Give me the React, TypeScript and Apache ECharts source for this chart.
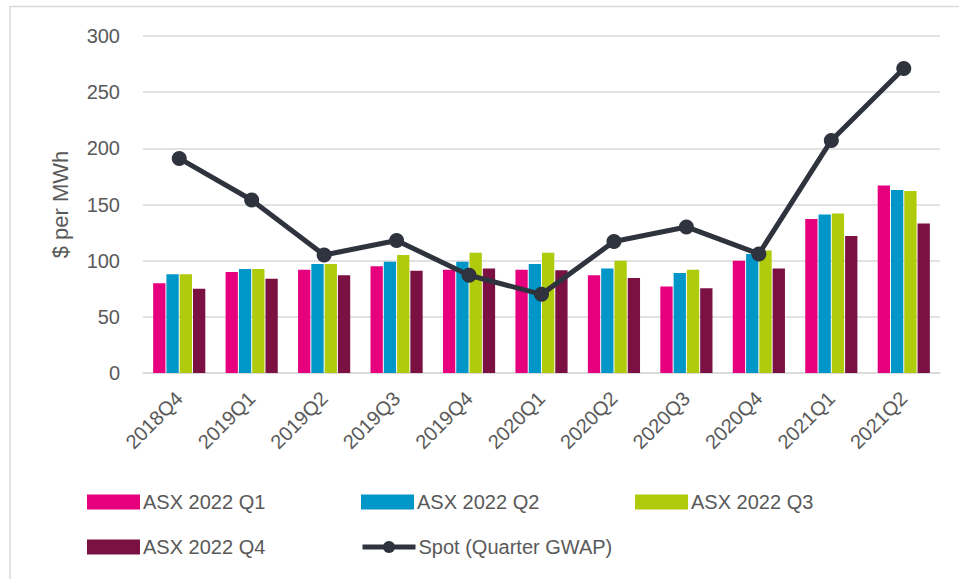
import React, { useEffect, useRef } from "react";
import * as echarts from "echarts";

const categories = ["2018Q4", "2019Q1", "2019Q2", "2019Q3", "2019Q4", "2020Q1", "2020Q2", "2020Q3", "2020Q4", "2021Q1", "2021Q2"];
const asxQ1 = [80, 90, 92, 95, 92, 92, 87, 77, 100, 137, 167];
const asxQ2 = [88, 92.5, 97, 99, 99, 97, 93, 89, 106, 141, 163];
const asxQ3 = [88, 92.5, 97, 105, 107, 107, 100, 92, 109, 142, 162];
const asxQ4 = [75, 84, 87, 91, 93, 91.5, 84.5, 75.5, 93, 122, 133];
const spot = [191, 154, 105, 118, 87, 70, 117, 130, 106, 207, 271];
const yTicks = { min: 0, max: 300, interval: 50 };

const COLORS = ["#E6007E", "#0096C8", "#B0CA0C", "#7A1142", "#2E333D"];
const NAMES = ["ASX 2022 Q1", "ASX 2022 Q2", "ASX 2022 Q3", "ASX 2022 Q4", "Spot (Quarter GWAP)"];
const FONT = "'Liberation Sans', 'DejaVu Sans', sans-serif";
const TXT = "#595959";

export default function App() {
  const ref = useRef<HTMLDivElement>(null);
  useEffect(() => {
    if (!ref.current) return;
    const chart = echarts.init(ref.current, null, { renderer: "svg" });
    const barSeries = [asxQ1, asxQ2, asxQ3, asxQ4].map((d, i) => ({
      name: NAMES[i],
      type: "bar",
      data: d,
      barWidth: 12.3,
      barGap: "8%",
      itemStyle: { color: COLORS[i] },
    }));
    const legendPos = [
      [87, 492],
      [361, 492],
      [635, 492],
      [87, 537],
      [360, 537],
    ];
    const legends = NAMES.map((n, i) => ({
      data: [n],
      left: legendPos[i][0],
      top: legendPos[i][1],
      padding: 0,
      itemWidth: 53,
      itemHeight: 15,
      itemGap: 0,
      selectedMode: false,
      textStyle: { color: TXT, fontSize: 20, fontFamily: FONT, padding: [0, 0, 0, -2] },
      ...(i === 4
        ? { lineStyle: { width: 5, color: COLORS[4] }, itemStyle: { color: COLORS[4] } }
        : { icon: "rect" }),
    }));
    chart.setOption({
      animation: false,
      textStyle: { fontFamily: FONT },
      graphic: [
        {
          type: "rect",
          shape: { x: 10, y: 6.5, width: 1000, height: 1000 },
          style: { fill: "none", stroke: "#d9d9d9", lineWidth: 1.5 },
          silent: true,
        },
      ],
      legend: legends,
      grid: { left: 143, top: 36, width: 797, height: 337, containLabel: false },
      xAxis: {
        type: "category",
        data: categories,
        axisTick: { show: false },
        axisLine: { show: true, lineStyle: { color: "#d9d9d9", width: 1.5 } },
        axisLabel: {
          rotate: 45,
          interval: 0,
          color: TXT,
          fontSize: 20,
          fontFamily: FONT,
          margin: 22,
        },
      },
      yAxis: {
        type: "value",
        min: yTicks.min,
        max: yTicks.max,
        interval: yTicks.interval,
        name: "$ per MWh",
        nameLocation: "middle",
        nameGap: 72,
        nameTextStyle: { color: TXT, fontSize: 22, fontFamily: FONT },
        axisLine: { show: false },
        axisTick: { show: false },
        axisLabel: { color: TXT, fontSize: 20, fontFamily: FONT, margin: 23 },
        splitLine: { lineStyle: { color: "#d9d9d9", width: 1.5 } },
      },
      series: [
        ...barSeries,
        {
          name: NAMES[4],
          type: "line",
          data: spot,
          symbol: "circle",
          symbolSize: 15,
          lineStyle: { color: COLORS[4], width: 5 },
          itemStyle: { color: COLORS[4] },
          z: 5,
        },
      ],
    });
    return () => chart.dispose();
  }, []);
  return (
    <div
      ref={ref}
      style={{ position: "fixed", left: 0, top: 0, width: 959, height: 579, background: "#fff" }}
    />
  );
}
